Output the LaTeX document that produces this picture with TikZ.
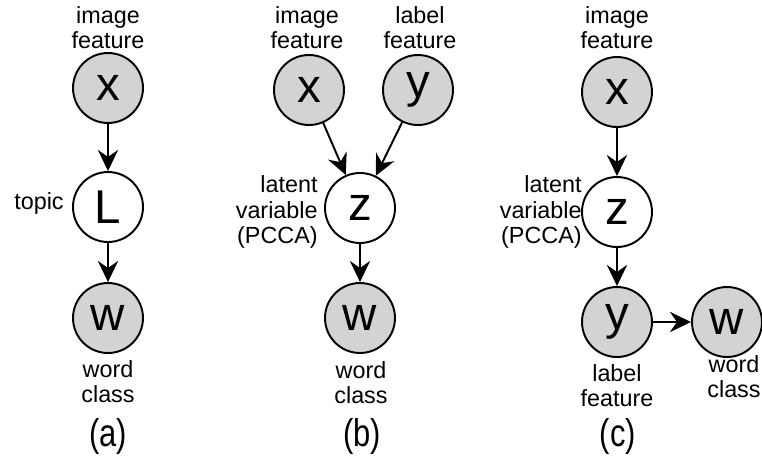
\documentclass[tikz,border=0pt]{standalone}
\usepackage{fontspec}
\setmainfont{Liberation Sans}
\newfontfamily\subfont[FakeStretch=0.8]{Liberation Sans}
\usetikzlibrary{arrows.meta}
\definecolor{obsgray}{RGB}{211,211,213}

\tikzset{
  var/.style={circle,draw,line width=1.1pt,minimum size=1.4cm,inner sep=0pt,
    font=\fontsize{27}{27}\selectfont},
  obs/.style={var,fill=obsgray},
  lbl/.style={align=center,inner sep=0pt,font=\fontsize{13.3}{14.3}\selectfont},
  sub/.style={font=\subfont\fontsize{22}{22}\selectfont},
  edge/.style={-{Stealth[length=12pt,width=11.5pt,inset=4pt]},line width=1.1pt},
}

\begin{document}
\begin{tikzpicture}[x=0.02cm,y=-0.02cm]
  \useasboundingbox (0,0) rectangle (762,461);

  % (a) image feature -> topic -> word class
  \node[obs] (ax) at (108,88) {x};
  \node[var] (al) at (108,207) {L};
  \node[obs] (aw) at (108,318) {w};
  \node[lbl] (axt) at (108,28) {image\\feature};
  \node[lbl,anchor=east] (alt) at (64,203) {topic};
  \node[lbl] (awt) at (108,382) {word\\class};
  \node[sub] (acap) at (108,436) {(a)};
  \draw[edge] (ax) -- (al);
  \draw[edge] (al) -- (aw);

  % (b) image and label feature share a latent variable
  \node[obs] (bx) at (309,90) {x};
  \node[obs] (by) at (418,90) {y};
  \node[var] (bz) at (360,208) {z};
  \node[obs] (bw) at (360,318) {w};
  \node[lbl] (bxt) at (307,28) {image\\feature};
  \node[lbl] (byt) at (420,28) {label\\feature};
  \node[lbl,align=right,anchor=east] (bzt) at (318,212) {latent\\variable\\(PCCA)};
  \node[lbl] (bwt) at (361,383) {word\\class};
  \node[sub] (bcap) at (362,436) {(b)};
  \draw[edge] (bx) -- (bz);
  \draw[edge] (by) -- (bz);
  \draw[edge] (bz) -- (bw);

  % (c) label feature predicted from the latent variable
  \node[obs] (cx) at (617,92) {x};
  \node[var] (cz) at (617,212) {z};
  \node[obs] (cy) at (617,322) {y};
  \node[obs] (cw) at (727,322) {w};
  \node[lbl] (cxt) at (617,28) {image\\feature};
  \node[lbl,align=right,anchor=east] (czt) at (582,212) {latent\\variable\\(PCCA)};
  \node[lbl] (cyt) at (617,386) {label\\feature};
  \node[lbl] (cwt) at (734,377) {word\\class};
  \node[sub] (ccap) at (618,436) {(c)};
  \draw[edge] (cx) -- (cz);
  \draw[edge] (cz) -- (cy);
  \draw[edge] (cy) -- (cw);
\end{tikzpicture}
\end{document}
